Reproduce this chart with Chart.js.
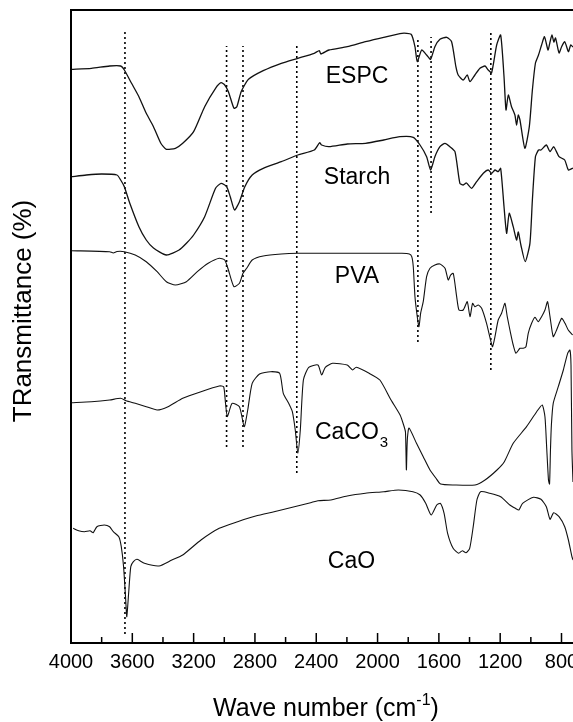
<!DOCTYPE html>
<html><head><meta charset="utf-8">
<script src="https://cdn.jsdelivr.net/npm/chart.js@4.4.1/dist/chart.umd.min.js"></script>
<style>html,body{margin:0;padding:0;background:#fff;overflow:hidden}#wrap{width:573px;height:722px;position:relative}</style>
</head><body><div id="wrap"><canvas id="c"></canvas></div>
<script>
// Wavenumber (cm-1) and relative transmittance (stacked, arbitrary offset units)
const espcWave = [3998,3867,3748,3676,3652,3605,3557,3509,3462,3414,3378,3319,3271,3200,3128,3057,3021,2997,2973,2937,2918,2890,2842,2746,2628,2520,2413,2380,2370,2317,2198,2079,1960,1841,1781,1756,1741,1712,1680,1654,1626,1593,1549,1517,1489,1474,1441,1415,1397,1365,1332,1299,1278,1256,1223,1197,1175,1162,1147,1126,1104,1093,1082,1071,1039,1010,990,970,950,930,911,888,875,862,850,839,816,800,779,755,740,725];
const espcT = [573.7,574.7,577,577,573,559.7,546.3,529.7,516.3,499.7,493.7,494.7,499.7,511.3,536.3,554.7,560.3,558,551.3,534.7,536.3,551.3,563.7,572.3,579.7,584.7,589.7,592.3,589,593,596.3,601.3,605.7,609.7,608.7,596.3,581.3,593,588,583.7,596.3,603.7,605.7,601.3,576.3,568,563,568,561.3,568,574.7,577,573,570.3,598,608,566.3,533,548,536.3,528,518,528,523,494.7,516.3,553,580,588,598,606.3,593,601,608,601,605,590,596,601.3,591.3,598,596];

const starchWave = [3998,3900,3800,3700,3676,3652,3617,3557,3509,3462,3378,3295,3247,3200,3128,3057,3021,2985,2961,2933,2901,2866,2818,2746,2628,2520,2413,2378,2365,2317,2198,2079,1960,1854,1767,1723,1680,1654,1626,1593,1560,1528,1495,1463,1441,1420,1386,1354,1310,1278,1256,1234,1213,1197,1175,1158,1141,1115,1093,1082,1065,1037,1006,990,970,950,934,899,875,851,816,779,755,725];
const starchT = [466.3,468,469,468,463,456.3,440,416.3,403,395,388,393,399.7,408,426.3,454.7,459.7,456.3,446.3,433,441.3,456.3,468,474.7,481.3,488,493,500.3,498,496.3,499,499.7,503,506.3,505.7,498,486.3,473,486.3,496.3,499.7,496.3,491.3,459.7,458,460,454.7,461.3,469.7,473,469.7,473,471.3,474.7,436.3,409.7,429.7,416.3,403,411,398,381.3,399.7,443,486.3,493,493,498,491.3,496.3,486.3,483,473,475];

const pvaWave = [3998,3748,3724,3700,3652,3581,3509,3438,3378,3319,3247,3176,3105,3033,2997,2973,2937,2901,2878,2854,2818,2746,2628,2520,2317,2079,1841,1793,1777,1767,1756,1741,1730,1719,1702,1680,1658,1626,1593,1560,1539,1523,1506,1484,1469,1441,1415,1397,1380,1365,1343,1321,1289,1263,1250,1234,1213,1191,1169,1154,1132,1115,1097,1071,1050,1032,1017,995,973,952,930,908,891,875,854,832,799,777,756,727];
const pvaT = [392.3,391.3,390,391.5,391.3,388,381.3,371.3,361.3,358,361.3,371.3,379.7,384.7,383,373,356.3,359.7,369.7,374.7,383,387,389,389.7,389.7,389.7,389.7,389,386.3,376.3,346.3,326.3,316.3,329.7,341.3,366.3,374.7,378,379,374.7,363,368,369.7,346.3,333,333,341.3,326.3,339.7,336.3,338,334.7,319.7,303,296.3,306.3,323,329.7,339.7,326.3,309.7,298,289.7,294.7,294.7,296.3,309.7,319.7,325.7,321.3,326.3,333,341.3,326.3,306.3,313,324.7,319.7,313,308];

const caco3Wave = [3998,3867,3748,3676,3641,3581,3509,3438,3367,3271,3152,3033,3004,2992,2980,2949,2901,2870,2847,2818,2770,2699,2639,2615,2580,2556,2537,2520,2504,2484,2449,2389,2365,2341,2294,2198,2163,2139,2055,1985,1912,1853,1830,1818,1812,1806,1795,1746,1702,1658,1620,1589,1500,1364,1299,1221,1173,1115,1028,962,926,908,897,885,878,872,866,854,821,788,760,745,738,732,725];
const caco3T = [240.3,241.3,243,244.7,242.3,239.7,236.3,233,236.3,244.7,251.3,257,256.3,239.7,226.3,239.7,236.3,216.3,233,259.7,269,271.3,269.7,249.7,239.7,231.3,213,189.7,213,263,275.7,278,268,275.7,279.7,278,273,275.7,269.7,263,243,228,218,211,173,203,215,199.7,186.3,173,165,159,158,158,163,173,181.3,199.7,216.3,231.3,238,226.3,196.3,163,159,193,218,239.7,256.3,273,289.7,293,278,193,161];

const caoWave = [3986,3950,3912,3876,3855,3831,3783,3748,3724,3688,3672,3657,3643,3636,3624,3610,3593,3569,3521,3426,3342,3271,3152,3033,2913,2795,2675,2556,2437,2389,2305,2198,2079,1960,1864,1769,1722,1686,1650,1614,1590,1566,1543,1507,1471,1447,1423,1399,1376,1352,1328,1268,1197,1137,1101,1078,1054,983,934,899,875,851,816,779,755,732,725];
const caoT = [114.7,112.3,111.3,112.3,110.3,116.3,118,116.3,111.3,106.3,96.3,76.3,43,26.3,49.7,76.3,81.3,83.7,79.7,77,83,88,103,114.7,121.3,127,131.3,135.7,140.3,142.3,143,147,149.7,151.3,153,151.3,148,139.7,128,138,139.7,129.7,109.7,94.7,89.7,92.3,90.3,94.7,116.3,143,151.3,149.7,146.3,138,134.7,133,139.7,145.7,143.7,136.3,123.7,130.3,126.3,116.3,103,86.3,83];

const seriesNames = ['ESPC','Starch','PVA','CaCO3','CaO'];
// Dotted marker lines: wavenumber, lower and upper end
const markWave = [3648,2985,2878,2527,1737,1651,1261];
const markLow  = [9,196,196,170,301,430,273];
const markHigh = [614,597,597,600,605,606,613];

const tickLabels = [4000,3600,3200,2800,2400,2000,1600,1200,800];
const minorTicks = [3800,3400,3000,2600,2200,1800,1400,1000];

// Curve label anchors (wavenumber, offset units)
const labelWave = [2134,2134,2134,2200,2170];
const labelT = [566,465,366,210,81];

const toXY = (w,t) => w.map((v,i)=>({x:v,y:t[i]}));
const curves = [[espcWave,espcT],[starchWave,starchT],[pvaWave,pvaT],[caco3Wave,caco3T],[caoWave,caoT]];
const datasets = curves.map((c,i)=>({label:seriesNames[i],data:toXY(c[0],c[1]),borderColor:'#111',borderWidth:(i<2?1.3:1.1),pointRadius:0,tension:0.2,fill:false}));
markWave.forEach((w,i)=>datasets.push({label:'mark'+i,data:[{x:w,y:markLow[i]},{x:w,y:markHigh[i]}],borderColor:'#000',borderWidth:1.6,borderDash:[2,3],pointRadius:0,tension:0,fill:false}));

const FONT = 'Arial, "Liberation Sans", sans-serif';
const decor = {
  id:'decor',
  afterDraw(chart){
    const ctx = chart.ctx, ca = chart.chartArea, xs = chart.scales.x, ys = chart.scales.y;
    ctx.save();
    ctx.strokeStyle='#000'; ctx.lineWidth=2;
    ctx.beginPath();
    ctx.moveTo(ca.left, ca.top); ctx.lineTo(ca.right+2, ca.top);
    ctx.moveTo(ca.left, ca.top-1); ctx.lineTo(ca.left, ca.bottom+1);
    ctx.moveTo(ca.left-1, ca.bottom); ctx.lineTo(ca.right+2, ca.bottom);
    ctx.stroke();
    ctx.lineWidth=1.5;
    ctx.beginPath();
    tickLabels.forEach(v=>{const x=xs.getPixelForValue(v); ctx.moveTo(x,ca.bottom); ctx.lineTo(x,ca.bottom-10);});
    minorTicks.forEach(v=>{const x=xs.getPixelForValue(v); ctx.moveTo(x,ca.bottom); ctx.lineTo(x,ca.bottom-6);});
    ctx.stroke();
    ctx.fillStyle='#000';
    ctx.font='20px '+FONT; ctx.textAlign='center'; ctx.textBaseline='middle';
    tickLabels.forEach(v=>ctx.fillText(String(v), xs.getPixelForValue(v), ca.bottom+19));
    // x title with superscript
    ctx.textBaseline='alphabetic'; ctx.textAlign='left';
    const t1='Wave number (cm', t3=')';
    ctx.font='16px '+FONT; const w2=ctx.measureText('-1').width;
    ctx.font='25px '+FONT; const w1=ctx.measureText(t1).width, w3=ctx.measureText(t3).width;
    let x0 = (ca.left+ca.right)/2 - (w1+w2+w3)/2 + 4;
    const yb = ca.bottom+73;
    ctx.fillText(t1,x0,yb);
    ctx.font='16px '+FONT; ctx.fillText('-1',x0+w1,yb-11);
    ctx.font='25px '+FONT; ctx.fillText(t3,x0+w1+w2,yb);
    // y title
    ctx.save();
    ctx.translate(24, 311); ctx.rotate(-Math.PI/2);
    ctx.font='26px '+FONT; ctx.textAlign='center'; ctx.textBaseline='middle';
    ctx.fillText('TRansmittance (%)',0,0);
    ctx.restore();
    // curve labels
    ctx.font='23px '+FONT; ctx.textBaseline='middle';
    seriesNames.forEach((n,i)=>{
      const x=xs.getPixelForValue(labelWave[i]), y=ys.getPixelForValue(labelT[i]);
      if(n==='CaCO3'){
        ctx.textAlign='center'; ctx.fillText('CaCO',x,y);
        const w=ctx.measureText('CaCO').width;
        ctx.font='15px '+FONT; ctx.textAlign='left'; ctx.fillText('3',x+w/2+1,y+10);
        ctx.font='23px '+FONT;
      } else { ctx.textAlign='center'; ctx.fillText(n,x,y); }
    });
    ctx.restore();
  }
};

new Chart(document.getElementById('c'),{
  type:'line',
  data:{datasets},
  options:{
    responsive:true, maintainAspectRatio:false, animation:false, devicePixelRatio:1,
    layout:{padding:{left:71,top:10,right:0,bottom:79}},
    plugins:{legend:{display:false},tooltip:{enabled:false}},
    scales:{
      x:{type:'linear',reverse:true,min:725,max:4000,display:false},
      y:{type:'linear',min:0,max:633,display:false}
    }
  },
  plugins:[decor]
});
</script></body></html>
